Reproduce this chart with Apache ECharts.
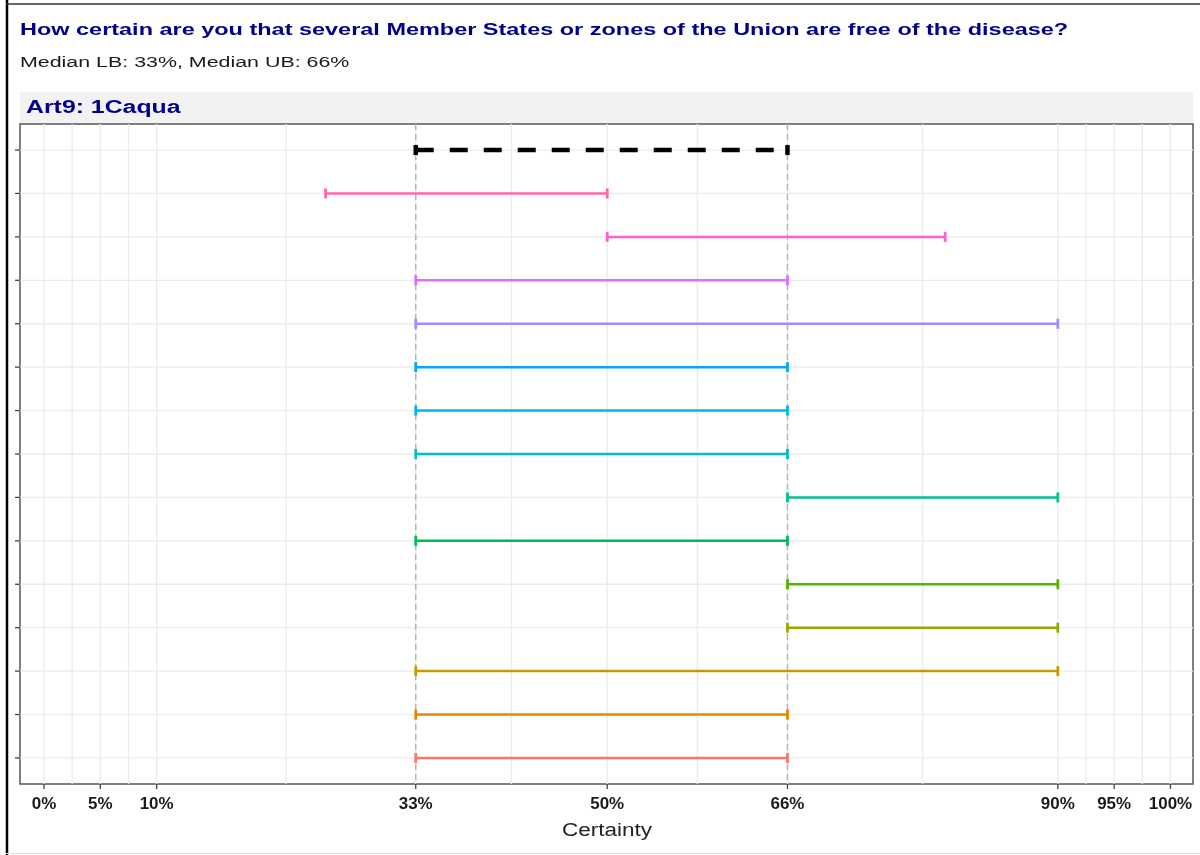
<!DOCTYPE html>
<html>
<head>
<meta charset="utf-8">
<script src="https://cdn.jsdelivr.net/npm/echarts@6/dist/echarts.min.js"></script>
<style>
html,body{margin:0;padding:0;background:#fff;}
#chart{width:1200px;height:855px;}
</style>
</head>
<body>
<div id="chart"></div>
<script>
// ---- data ----
const titleText = 'How certain are you that several Member States or zones of the Union are free of the disease?';
const subtitleText = 'Median LB: 33%, Median UB: 66%';
const stripText = 'Art9: 1Caqua';
const xAxisName = 'Certainty';
const rowLabels = ['Median', 'E14', 'E13', 'E12', 'E11', 'E10', 'E9', 'E8', 'E7', 'E6', 'E5', 'E4', 'E3', 'E2', 'E1'];
const lowerBound = [33, 25, 50, 33, 33, 33, 33, 33, 66, 33, 66, 66, 33, 33, 33];
const upperBound = [66, 50, 80, 66, 90, 66, 66, 66, 90, 66, 90, 90, 90, 66, 66];
const rowColors = ['#000000', '#FF66A8', '#FB61D7', '#DF70F8', '#A58AFF', '#06A4FF', '#00B6EB', '#00BFC4', '#00C094', '#00BC56', '#53B400', '#99A800', '#C49A00', '#E38900', '#F8766D'];
const tickValues = [0, 5, 10, 33, 50, 66, 90, 95, 100];
const tickLabels = ['0%', '5%', '10%', '33%', '50%', '66%', '90%', '95%', '100%'];
const minorBreaks = [2.5, 7.5, 21.5, 41.5, 58, 78, 92.5, 97.5];
const medianLines = [33, 66];

// ---- chart ----
const chart = echarts.init(document.getElementById('chart'), null, {renderer: 'canvas'});
const rowIdx = rowLabels.map((_, i) => i);
const FONT = '"Liberation Sans", Arial, sans-serif';

const gridData = tickValues.concat(minorBreaks).map(v => [v, 0, 0]).concat(rowIdx.map(i => [0, i, 1]));

const option = {
  animation: false,
  backgroundColor: '#ffffff',
  grid: {left: 20, right: 7, top: 124, bottom: 71, show: true, borderColor: '#555555', borderWidth: 1.5, backgroundColor: 'transparent'},
  xAxis: {
    type: 'value', min: -2.13, max: 102.0,
    axisLine: {show: false}, splitLine: {show: false},
    axisTick: {show: false}, axisLabel: {show: false}
  },
  yAxis: {
    type: 'value', inverse: true, min: -0.6, max: 14.6,
    axisLine: {show: false}, splitLine: {show: false},
    axisTick: {show: false}, axisLabel: {show: false}
  },
  graphic: [
    {type: 'line', shape: {x1: 7, y1: 0, x2: 7, y2: 855}, style: {stroke: '#000', lineWidth: 2.5}},
    {type: 'line', shape: {x1: 6, y1: 4, x2: 1200, y2: 4}, style: {stroke: '#333', lineWidth: 1.5}},
    {type: 'line', shape: {x1: 6, y1: 853.5, x2: 1200, y2: 853.5}, style: {stroke: '#e0e0e0', lineWidth: 1}},
    {type: 'text', x: 20, y: 30, scaleX: 1.38, style: {text: titleText, font: 'bold 17px ' + FONT, fill: '#00008B', verticalAlign: 'middle'}},
    {type: 'text', x: 20, y: 63, scaleX: 1.38, style: {text: subtitleText, font: '15.5px ' + FONT, fill: '#1a1a1a', verticalAlign: 'middle'}},
    {type: 'rect', shape: {x: 20, y: 92, width: 1173, height: 31}, style: {fill: '#F2F2F2'}, z: -1},
    {type: 'text', x: 26, y: 108, scaleX: 1.38, style: {text: stripText, font: 'bold 18px ' + FONT, fill: '#00008B', verticalAlign: 'middle'}},
    {type: 'text', x: 607, y: 831, scaleX: 1.25, style: {text: xAxisName, font: '18px ' + FONT, fill: '#222', align: 'center', verticalAlign: 'middle'}}
  ],
  series: [
    {
      type: 'custom', name: 'grid', silent: true, z: 1,
      data: gridData, encode: {x: 0, y: 1},
      renderItem: function (params, api) {
        const cs = params.coordSys;
        if (api.value(2) === 0) {
          const x = api.coord([api.value(0), 0])[0];
          return {type: 'line', shape: {x1: x, y1: cs.y, x2: x, y2: cs.y + cs.height}, style: {stroke: '#EBEBEB', lineWidth: 1.3}};
        }
        const y = api.coord([0, api.value(1)])[1];
        return {type: 'line', shape: {x1: cs.x, y1: y, x2: cs.x + cs.width, y2: y}, style: {stroke: '#EBEBEB', lineWidth: 1.3}};
      }
    },
    {
      type: 'custom', name: 'xticks', silent: true, z: 4,
      data: tickValues.map((v, i) => [v, i]), encode: {x: 0},
      renderItem: function (params, api) {
        const cs = params.coordSys;
        const x = api.coord([api.value(0), 0])[0];
        const yb = cs.y + cs.height;
        return {type: 'group', children: [
          {type: 'line', shape: {x1: x, y1: yb, x2: x, y2: yb + 5}, style: {stroke: '#444', lineWidth: 1.3}},
          {type: 'text', x: x, y: yb + 21, scaleX: 1.06, style: {text: tickLabels[api.value(1)], font: 'bold 16px ' + FONT, fill: '#1a1a1a', align: 'center', verticalAlign: 'middle'}}
        ]};
      }
    },
    {
      type: 'custom', name: 'yticks', silent: true, z: 4,
      data: rowIdx.map(i => [0, i]), encode: {y: 1},
      renderItem: function (params, api) {
        const cs = params.coordSys;
        const y = api.coord([0, api.value(1)])[1];
        return {type: 'line', shape: {x1: cs.x - 5, y1: y, x2: cs.x, y2: y}, style: {stroke: '#444', lineWidth: 1.3}};
      }
    },
    {
      type: 'custom', name: 'median', silent: true, z: 2,
      data: medianLines.map(v => [v]), encode: {x: 0},
      renderItem: function (params, api) {
        const cs = params.coordSys;
        const x = api.coord([api.value(0), 0])[0];
        return {type: 'line', shape: {x1: x, y1: cs.y, x2: x, y2: cs.y + cs.height}, style: {stroke: '#B3B3B3', lineWidth: 1.4, lineDash: [6, 4]}};
      }
    },
    {
      type: 'custom', name: 'ranges', silent: true, z: 3,
      data: rowIdx.map(i => [i, lowerBound[i], upperBound[i]]),
      encode: {x: [1, 2], y: 0},
      renderItem: function (params, api) {
        const i = api.value(0);
        const p1 = api.coord([api.value(1), i]);
        const p2 = api.coord([api.value(2), i]);
        const isMed = i === 0;
        const color = rowColors[i];
        const lw = isMed ? 4.5 : 2.5;
        const clw = isMed ? 4.5 : 2.8;
        const h = 5;
        return {type: 'group', children: [
          {type: 'line', shape: {x1: p1[0], y1: p1[1], x2: p2[0], y2: p2[1]}, style: {stroke: color, lineWidth: lw, lineDash: isMed ? [18, 16] : null}},
          {type: 'line', shape: {x1: p1[0], y1: p1[1] - h, x2: p1[0], y2: p1[1] + h}, style: {stroke: color, lineWidth: clw}},
          {type: 'line', shape: {x1: p2[0], y1: p2[1] - h, x2: p2[0], y2: p2[1] + h}, style: {stroke: color, lineWidth: clw}}
        ]};
      }
    }
  ]
};
chart.setOption(option);
</script>
</body>
</html>
